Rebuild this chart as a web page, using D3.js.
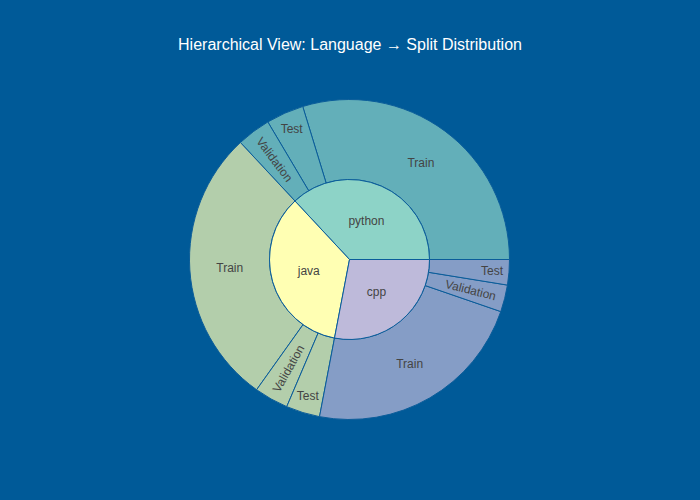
<!DOCTYPE html>
<html>
<head>
<meta charset="utf-8">
<script src="https://cdn.jsdelivr.net/npm/d3@7"></script>
<style>
  html, body { margin: 0; padding: 0; background: #005a98; }
  svg { display: block; }
</style>
</head>
<body>
<div id="chart"></div>
<script>
// ---- data ----
const languages = ["python", "java", "cpp"];
const languageColors = ["#8dd3c7", "#ffffb3", "#bebada"];
const pythonSplits = ["Train", "Test", "Validation"];
const pythonValues = [1070, 137, 123];
const javaSplits = ["Train", "Validation", "Test"];
const javaValues = [1015, 124, 123];
const cppSplits = ["Train", "Validation", "Test"];
const cppValues = [818, 98, 92];
const titleText = "Hierarchical View: Language \u2192 Split Distribution";

// ---- build hierarchy ----
const splitsByLang = [pythonSplits, javaSplits, cppSplits];
const valuesByLang = [pythonValues, javaValues, cppValues];
const treeData = {
  name: "root",
  children: languages.map((lang, i) => ({
    name: lang,
    color: languageColors[i],
    children: splitsByLang[i].map((s, j) => ({ name: s, value: valuesByLang[i][j] }))
  }))
};

const W = 700, H = 500;
const bg = "#005a98";
const cx = 349.5, cy = 259.5;
const R1 = 80, R2 = 160;

const svg = d3.select("#chart").append("svg").attr("width", W).attr("height", H);
svg.append("rect").attr("width", W).attr("height", H).attr("fill", bg);

const root = d3.hierarchy(treeData).sum(d => d.value || 0);
d3.partition().size([2 * Math.PI, 2])(root);

// Plotly: starts at 3 o'clock, counterclockwise.
const toD3 = a => Math.PI / 2 - a;
const rScale = d => d === 1 ? [0, R1] : [R1, R2];

const arc = d3.arc()
  .startAngle(d => toD3(d.x1))
  .endAngle(d => toD3(d.x0))
  .innerRadius(d => rScale(d.depth)[0])
  .outerRadius(d => rScale(d.depth)[1]);

const blend = (c, a) => {
  const f = d3.rgb(c), b = d3.rgb(bg);
  return d3.rgb(f.r * a + b.r * (1 - a), f.g * a + b.g * (1 - a), f.b * a + b.b * (1 - a)).formatHex();
};

const g = svg.append("g").attr("transform", `translate(${cx},${cy})`);
const nodes = root.descendants().filter(d => d.depth > 0);
nodes.sort((a, b) => b.depth - a.depth);

g.selectAll("path.slice").data(nodes).join("path")
  .attr("class", "slice")
  .attr("d", arc)
  .attr("fill", d => d.depth === 1 ? d.data.color : blend(d.parent.data.color, 0.7))
  .attr("stroke", "#0b5d9a")
  .attr("stroke-width", 1);

// labels
const fontFamily = "'Liberation Sans', Arial, sans-serif";
const measure = svg.append("text").attr("font-size", 12).attr("font-family", fontFamily).attr("visibility", "hidden");
function textW(t) { measure.text(t); return measure.node().getComputedTextLength(); }

nodes.forEach(d => {
  const mid = (d.x0 + d.x1) / 2;
  const span = d.x1 - d.x0;
  let r, rot = 0;
  if (d.depth === 1) {
    r = R1 * 0.53;
  } else if (span > 0.5) {
    r = (R1 + R2) / 2;
  } else {
    const w = textW(d.data.name);
    if (w < 40) {
      r = R2 - 17;
    } else {
      r = 125;
      let deg = -mid * 180 / Math.PI;
      while (deg > 90) deg -= 180;
      while (deg <= -90) deg += 180;
      rot = deg;
    }
  }
  const x = r * Math.cos(mid), y = -r * Math.sin(mid);
  g.append("text")
    .attr("transform", `translate(${x},${y}) rotate(${rot})`)
    .attr("text-anchor", "middle")
    .attr("dy", "0.35em")
    .attr("font-size", 12)
    .attr("font-family", fontFamily)
    .attr("fill", "#444")
    .text(d.data.name);
});
measure.remove();

svg.append("text")
  .attr("x", W / 2).attr("y", 50)
  .attr("text-anchor", "middle")
  .attr("font-size", 16)
  .attr("font-family", fontFamily)
  .attr("fill", "#ffffff")
  .text(titleText);
</script>
</body>
</html>
